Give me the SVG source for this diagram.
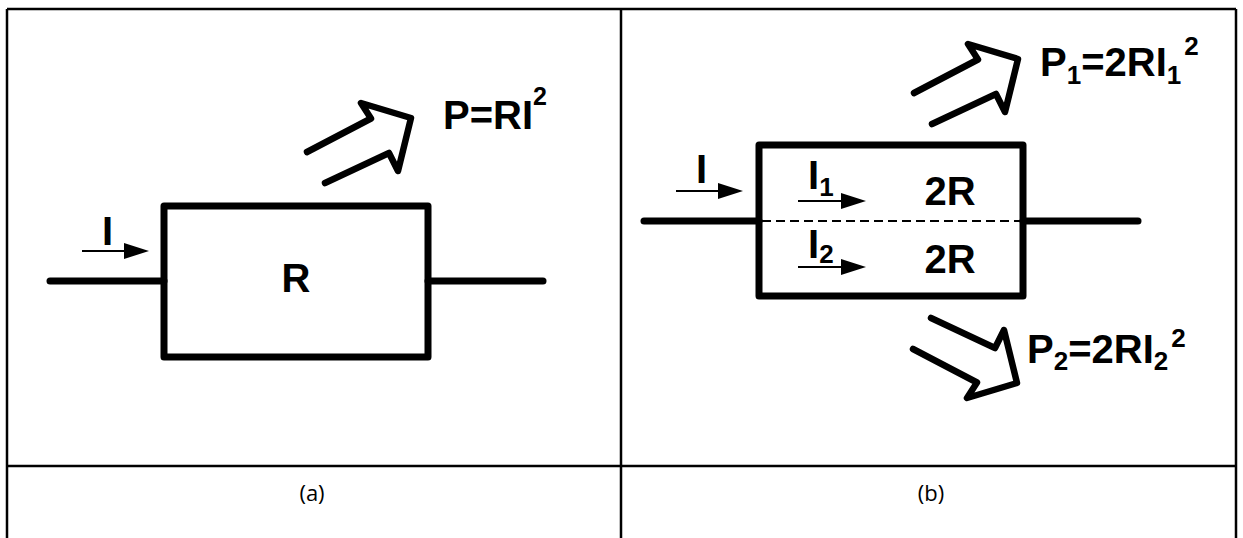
<svg xmlns="http://www.w3.org/2000/svg" width="1243" height="538" viewBox="0 0 1243 538">
<defs>
<style>
.grid{stroke:#000;stroke-width:2.5;fill:none}
.wire{stroke:#000;stroke-width:7;stroke-linecap:round;fill:none}
.box{stroke:#000;stroke-width:7;stroke-linejoin:round;fill:none}
.big{stroke:#000;stroke-width:6.5;stroke-linecap:round;stroke-linejoin:round;fill:none}
.thin{stroke:#000;stroke-width:1.8;fill:none}
.dash{stroke:#000;stroke-width:1.8;stroke-dasharray:9 5;fill:none}
.head{fill:#000}
.lbl{font-family:"Liberation Sans",Arial,sans-serif;font-weight:bold;font-size:40px;fill:#000}
.cap{font-family:"Open Sans","Liberation Sans",sans-serif;font-size:22px;fill:#000}
</style>
</defs>
<rect width="1243" height="538" fill="#fff"/>
<g id="table">
<line class="grid" x1="7" y1="9" x2="1236" y2="9"/>
<line class="grid" x1="7" y1="9" x2="7" y2="538"/>
<line class="grid" x1="621" y1="9" x2="621" y2="538"/>
<line class="grid" x1="1236" y1="9" x2="1236" y2="538"/>
<line class="grid" x1="7" y1="466" x2="1236" y2="466"/>
<text class="cap" x="312" y="501" text-anchor="middle">(a)</text>
<text class="cap" x="931" y="501" text-anchor="middle">(b)</text>
</g>
<g id="resistor-a">
<rect class="box" x="164" y="206" width="264" height="151"/>
<text class="lbl" x="296" y="292" text-anchor="middle">R</text>
<text class="lbl" x="102" y="245">I</text>
<text class="lbl" x="443" y="129" font-size="38">P=RI<tspan font-size="25" dy="-24">2</tspan></text>
</g>
<g id="resistor-b">
<rect class="box" x="759" y="145" width="264" height="151"/>
<line class="dash" x1="762" y1="221" x2="1020" y2="221"/>
<text class="lbl" x="696" y="183">I</text>
<text class="lbl" x="808" y="189">I<tspan font-size="26" dy="7">1</tspan></text>
<text class="lbl" x="808" y="258">I<tspan font-size="26" dy="5">2</tspan></text>
<text class="lbl" x="950" y="205" text-anchor="middle">2R</text>
<text class="lbl" x="950" y="273" text-anchor="middle">2R</text>
<text class="lbl" x="1040" y="76">P<tspan font-size="26" dy="8">1</tspan><tspan dy="-8">=2RI</tspan><tspan font-size="26" dy="8">1</tspan><tspan font-size="26" dx="3" dy="-29">2</tspan></text>
<text class="lbl" x="1027" y="363">P<tspan font-size="26" dy="7">2</tspan><tspan dy="-7">=2RI</tspan><tspan font-size="26" dy="7">2</tspan><tspan font-size="26" dx="3" dy="-23">2</tspan></text>
</g>
<g id="connectors">
<line class="wire" x1="50" y1="281" x2="164" y2="281"/>
<line class="wire" x1="428" y1="281" x2="543" y2="281"/>
<line class="wire" x1="644" y1="221" x2="759" y2="221"/>
<line class="wire" x1="1023" y1="221" x2="1138" y2="221"/>
<path class="big" d="M307,152 L371,118.5 L361,103 L411,118 L398,171 L389,153 L325,183"/>
<path class="big" d="M914,93 L978,59.5 L968,44 L1018,59 L1005,112 L996,94 L932,124"/>
<path class="big" d="M913,349 L977,382.5 L967,398 L1017,383 L1004,330 L995,348 L931,318"/>
<line class="thin" x1="82" y1="251" x2="126" y2="251"/>
<polygon class="head" points="124,243 149,251 124,259"/>
<line class="thin" x1="676" y1="191" x2="720" y2="191"/>
<polygon class="head" points="718,183 743,191 718,199"/>
<line class="thin" x1="798" y1="201" x2="843" y2="201"/>
<polygon class="head" points="841,193 866,201 841,209"/>
<line class="thin" x1="798" y1="267" x2="843" y2="267"/>
<polygon class="head" points="841,259 866,267 841,275"/>
</g>
</svg>
